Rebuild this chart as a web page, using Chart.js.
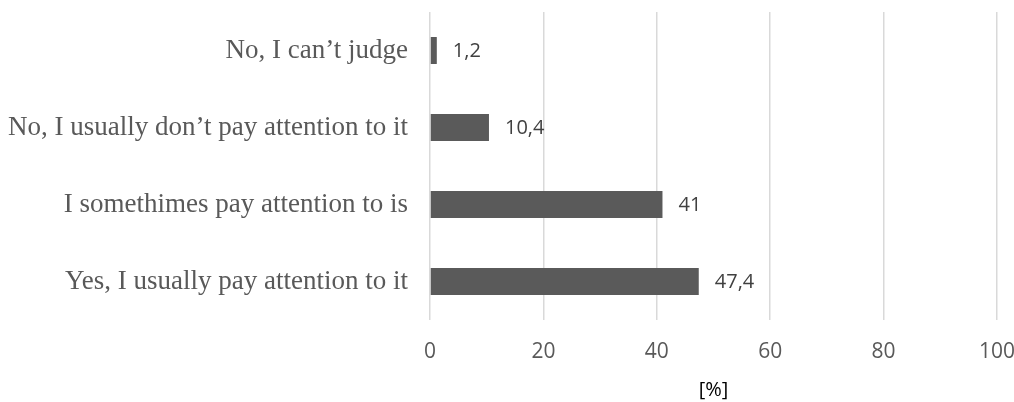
<!DOCTYPE html>
<html>
<head>
<meta charset="utf-8">
<script src="https://cdn.jsdelivr.net/npm/chart.js@4.4.0/dist/chart.umd.min.js"></script>
<style>
  html, body { margin: 0; padding: 0; background: #fff; }
  #wrap { width: 1014px; height: 402px; }
</style>
</head>
<body>
<div id="wrap"><canvas id="chart"></canvas></div>
<script>
// Data
const categories = [
  'No, I can\u2019t judge',
  'No, I usually don\u2019t pay attention to it',
  'I somethimes pay attention to is',
  'Yes, I usually pay attention to it',
];
const percentages = [1.2, 10.4, 41, 47.4];
const xTicks = [0, 20, 40, 60, 80, 100];

/**
 * Format value with a decimal comma
 */
function formatComma(num) {
  return String(num).replace('.', ',');
}

// Draw value labels to the right of each bar
const barLabels = {
  id: 'barLabels',
  afterDatasetsDraw(chart) {
    const ctx = chart.ctx;
    const meta = chart.getDatasetMeta(0);
    ctx.save();
    ctx.font = '20px "Open Sans", sans-serif';
    ctx.fillStyle = '#404040';
    ctx.textAlign = 'left';
    ctx.textBaseline = 'middle';
    meta.data.forEach((bar, i) => {
      ctx.fillText(formatComma(percentages[i]), bar.x + 16, bar.y + 1);
    });
    ctx.restore();
  },
};

new Chart(document.getElementById('chart'), {
  type: 'bar',
  data: {
    labels: categories,
    datasets: [{
      data: percentages,
      backgroundColor: '#5a5a5a',
      barPercentage: 0.7,
      categoryPercentage: 0.5,
    }],
  },
  plugins: [barLabels],
  options: {
    indexAxis: 'y',
    responsive: true,
    maintainAspectRatio: false,
    animation: false,
    layout: { padding: { top: 12, right: 17, bottom: 0, left: 0 } },
    plugins: {
      legend: { display: false },
      tooltip: { enabled: false },
    },
    scales: {
      x: {
        min: 0,
        max: 100,
        afterBuildTicks: scale => {
          scale.ticks = xTicks.map(v => ({ value: v }));
        },
        afterFit: scale => {
          scale.height = 82;
          scale.paddingLeft = 0;
          scale.paddingRight = 0;
        },
        grid: { color: '#d9d9d9', lineWidth: 1.5, drawTicks: false },
        border: { display: false },
        ticks: {
          padding: 19,
          color: '#595959',
          font: { family: '"Open Sans", sans-serif', size: 21 },
        },
        title: {
          display: true,
          text: '[%]',
          color: '#000000',
          padding: { top: 4, bottom: 0 },
          font: { family: '"Open Sans", sans-serif', size: 20 },
        },
      },
      y: {
        afterFit: scale => {
          scale.width = 430;
          scale.paddingTop = 0;
          scale.paddingBottom = 0;
        },
        grid: { display: false },
        border: { display: false },
        ticks: {
          padding: 14,
          color: '#595959',
          font: { family: '"Liberation Serif", "Times New Roman", serif', size: 27 },
        },
      },
    },
  },
});
</script>
</body>
</html>
